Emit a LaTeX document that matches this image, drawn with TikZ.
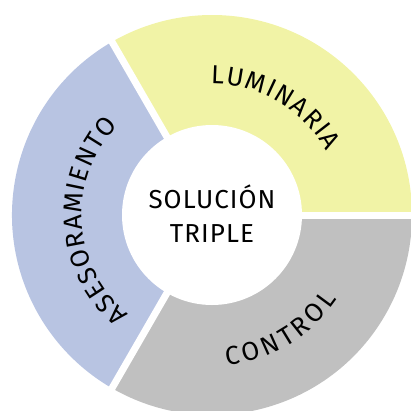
\documentclass[tikz,border=0pt]{standalone}
\usepackage{fontspec}
\setmainfont{Fira Sans}
\usetikzlibrary{decorations.text}
\definecolor{luz}{RGB}{241,243,166}
\definecolor{ases}{RGB}{184,196,226}
\definecolor{ctrl}{RGB}{192,192,192}
\tikzset{
SECTOR/.style={draw=none, fill=#1},
GAP/.style={draw=white, line width=7pt},
RINGTEXT/.style={decorate, decoration={text along path,
  text={|\fontsize{26}{30}\selectfont|#1}, text align={fit to path}}},
}

\begin{document}
\begin{tikzpicture}[x=1pt,y=1pt]
	\useasboundingbox (-212,-195) rectangle (199,215);
	\clip (-212,-195) rectangle (199,215);
	%ring
	\foreach \col/\a in {luz/0,ases/120,ctrl/240}
		\path[SECTOR=\col] (0,0) -- (\a:200) arc[start angle=\a, end angle=\a+120, radius=200] -- cycle;
	\foreach \a in {0,120,240} \draw[GAP] (0,0) -- (\a:210);
	\fill[white] (0,0) circle[radius=90];
	%labels
	\path[RINGTEXT=LUMINARIA] (90.5:131) arc[start angle=90.5, end angle=29, radius=131];
	\path[RINGTEXT=ASESORAMIENTO] (230:130) arc[start angle=230, end angle=136.5, radius=130];
	\path[RINGTEXT=CONTROL] (275.5:151) arc[start angle=275.5, end angle=326, radius=151];
	\node[align=center, font=\fontsize{26}{34}\selectfont\addfontfeatures{LetterSpace=4}] (core) at (0,1) {SOLUCIÓN\\TRIPLE};
\end{tikzpicture}
\end{document}
